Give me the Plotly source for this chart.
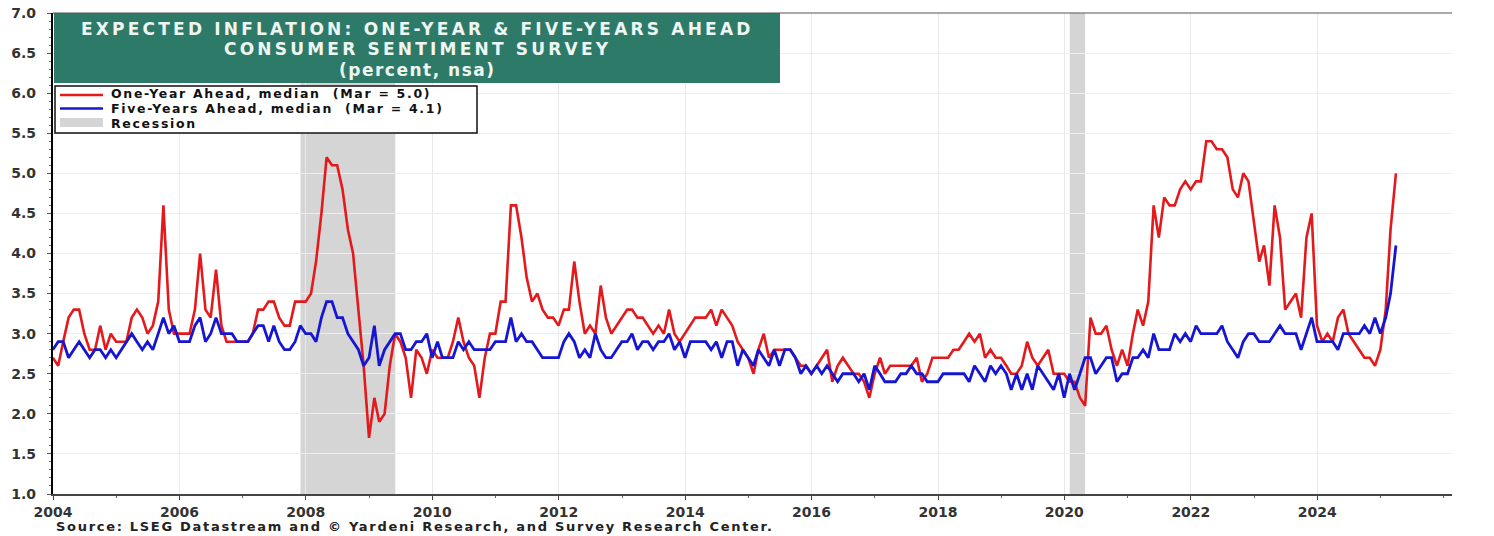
import pandas as pd
import plotly.graph_objects as go

# Monthly survey medians, Dec 2003 .. Mar 2025 (plotted at month end)
months = pd.period_range("2003-12", "2025-03", freq="M")
dates = months.to_timestamp(how="end").normalize()

one_year_ahead = [
    2.7, 2.6, 2.9, 3.2, 3.3, 3.3, 3.0, 2.8, 2.8, 3.1, 2.8, 3.0,
    2.9, 2.9, 2.9, 3.2, 3.3, 3.2, 3.0, 3.1, 3.4, 4.6, 3.3, 3.0,
    3.0, 3.0, 3.0, 3.3, 4.0, 3.3, 3.2, 3.8, 3.1, 2.9, 2.9, 2.9,
    2.9, 2.9, 3.0, 3.3, 3.3, 3.4, 3.4, 3.2, 3.1, 3.1, 3.4, 3.4,
    3.4, 3.5, 3.9, 4.5, 5.2, 5.1, 5.1, 4.8, 4.3, 4.0, 3.3, 2.6,
    1.7, 2.2, 1.9, 2.0, 2.6, 3.0, 2.9, 2.7, 2.2, 2.8, 2.7, 2.5,
    2.8, 2.7, 2.7, 2.7, 2.9, 3.2, 2.9, 2.7, 2.6, 2.2, 2.7, 3.0,
    3.0, 3.4, 3.4, 4.6, 4.6, 4.2, 3.7, 3.4, 3.5, 3.3, 3.2, 3.2,
    3.1, 3.3, 3.3, 3.9, 3.4, 3.0, 3.1, 3.0, 3.6, 3.2, 3.0, 3.1,
    3.2, 3.3, 3.3, 3.2, 3.2, 3.1, 3.0, 3.1, 3.0, 3.3, 3.0, 2.9,
    3.0, 3.1, 3.2, 3.2, 3.2, 3.3, 3.1, 3.3, 3.2, 3.1, 2.9, 2.8,
    2.7, 2.5, 2.8, 3.0, 2.7, 2.8, 2.8, 2.8, 2.8, 2.7, 2.6, 2.6,
    2.5, 2.6, 2.7, 2.8, 2.4, 2.6, 2.7, 2.6, 2.5, 2.5, 2.4, 2.2,
    2.5, 2.7, 2.5, 2.6, 2.6, 2.6, 2.6, 2.6, 2.7, 2.4, 2.5, 2.7,
    2.7, 2.7, 2.7, 2.8, 2.8, 2.9, 3.0, 2.9, 3.0, 2.7, 2.8, 2.7,
    2.7, 2.6, 2.5, 2.5, 2.6, 2.9, 2.7, 2.6, 2.7, 2.8, 2.5, 2.5,
    2.5, 2.4, 2.4, 2.2, 2.1, 3.2, 3.0, 3.0, 3.1, 2.8, 2.6, 2.8,
    2.6, 3.0, 3.3, 3.1, 3.4, 4.6, 4.2, 4.7, 4.6, 4.6, 4.8, 4.9,
    4.8, 4.9, 4.9, 5.4, 5.4, 5.3, 5.3, 5.2, 4.8, 4.7, 5.0, 4.9,
    4.4, 3.9, 4.1, 3.6, 4.6, 4.2, 3.3, 3.4, 3.5, 3.2, 4.2, 4.5,
    3.1, 2.9, 3.0, 2.9, 3.2, 3.3, 3.0, 2.9, 2.8, 2.7, 2.7, 2.6,
    2.8, 3.3, 4.3, 5.0,
]

five_years_ahead = [
    2.8, 2.9, 2.9, 2.7, 2.8, 2.9, 2.8, 2.7, 2.8, 2.8, 2.7, 2.8,
    2.7, 2.8, 2.9, 3.0, 2.9, 2.8, 2.9, 2.8, 3.0, 3.2, 3.0, 3.1,
    2.9, 2.9, 2.9, 3.1, 3.2, 2.9, 3.0, 3.2, 3.0, 3.0, 3.0, 2.9,
    2.9, 2.9, 3.0, 3.1, 3.1, 2.9, 3.1, 2.9, 2.8, 2.8, 2.9, 3.1,
    3.0, 3.0, 2.9, 3.2, 3.4, 3.4, 3.2, 3.2, 3.0, 2.9, 2.8, 2.6,
    2.7, 3.1, 2.6, 2.8, 2.9, 3.0, 3.0, 2.8, 2.8, 2.9, 2.9, 3.0,
    2.7, 2.9, 2.7, 2.7, 2.7, 2.9, 2.8, 2.9, 2.8, 2.8, 2.8, 2.8,
    2.9, 2.9, 2.9, 3.2, 2.9, 3.0, 2.9, 2.9, 2.8, 2.7, 2.7, 2.7,
    2.7, 2.9, 3.0, 2.9, 2.7, 2.8, 2.7, 3.0, 2.8, 2.7, 2.7, 2.8,
    2.9, 2.9, 3.0, 2.8, 2.9, 2.9, 2.8, 2.9, 2.9, 3.0, 2.8, 2.9,
    2.7, 2.9, 2.9, 2.9, 2.9, 2.8, 2.9, 2.7, 2.9, 2.9, 2.6, 2.8,
    2.7, 2.6, 2.8, 2.7, 2.6, 2.8, 2.6, 2.8, 2.8, 2.7, 2.5, 2.6,
    2.5, 2.6, 2.5, 2.6, 2.5, 2.4, 2.5, 2.5, 2.5, 2.4, 2.5, 2.3,
    2.6, 2.5, 2.4, 2.4, 2.4, 2.5, 2.5, 2.6, 2.5, 2.5, 2.4, 2.4,
    2.4, 2.5, 2.5, 2.5, 2.5, 2.5, 2.4, 2.6, 2.5, 2.4, 2.6, 2.5,
    2.6, 2.5, 2.3, 2.5, 2.3, 2.5, 2.3, 2.6, 2.5, 2.4, 2.3, 2.5,
    2.2, 2.5, 2.3, 2.5, 2.7, 2.7, 2.5, 2.6, 2.7, 2.7, 2.4, 2.5,
    2.5, 2.7, 2.7, 2.8, 2.7, 3.0, 2.8, 2.8, 2.8, 3.0, 2.9, 3.0,
    2.9, 3.1, 3.0, 3.0, 3.0, 3.0, 3.1, 2.9, 2.8, 2.7, 2.9, 3.0,
    3.0, 2.9, 2.9, 2.9, 3.0, 3.1, 3.0, 3.0, 3.0, 2.8, 3.0, 3.2,
    2.9, 2.9, 2.9, 2.9, 2.8, 3.0, 3.0, 3.0, 3.0, 3.1, 3.0, 3.2,
    3.0, 3.2, 3.5, 4.1,
]

recessions = [("2007-12-01", "2009-06-01"), ("2020-02-01", "2020-04-30")]

year_ticks = ["2004-01-01", "2006-01-01", "2008-01-01", "2010-01-01", "2012-01-01",
              "2014-01-01", "2016-01-01", "2018-01-01", "2020-01-01", "2022-01-01",
              "2024-01-01"]
year_labels = ["2004", "2006", "2008", "2010", "2012", "2014", "2016", "2018",
               "2020", "2022", "2024"]
pct_ticks = [1.0, 1.5, 2.0, 2.5, 3.0, 3.5, 4.0, 4.5, 5.0, 5.5, 6.0, 6.5, 7.0]
pct_labels = ["1.0", "1.5", "2.0", "2.5", "3.0", "3.5", "4.0", "4.5", "5.0",
              "5.5", "6.0", "6.5", "7.0"]

legend_labels = ["One-Year Ahead, median  (Mar = 5.0)",
                 "Five-Years Ahead, median  (Mar = 4.1)",
                 "Recession"]
title_lines = ["EXPECTED INFLATION: ONE-YEAR &amp; FIVE-YEARS AHEAD",
               "CONSUMER SENTIMENT SURVEY",
               "(percent, nsa)"]
source_text = "Source: LSEG Datastream and © Yardeni Research, and Survey Research Center."

RED = "#e3191c"
BLUE = "#1616d2"
GREEN = "#2e7a68"
SHADE = "#d5d5d5"
FONT = "DejaVu Sans"

W, H = 1494, 536
ML, MR, MT, MB = 53, 42, 13, 42
PW, PH = W - ML - MR, H - MT - MB


def fx(px):
    """Horizontal pixel position -> paper fraction."""
    return (px - ML) / PW


def fy(py):
    """Vertical pixel position (from top) -> paper fraction."""
    return (H - MB - py) / PH


def spaced(text, ls):
    return f'<span style="letter-spacing:{ls}px">{text}</span>'


fig = go.Figure()
fig.add_trace(go.Scatter(x=dates, y=one_year_ahead, mode="lines",
                         line=dict(color=RED, width=2.6), name=legend_labels[0]))
fig.add_trace(go.Scatter(x=dates, y=five_years_ahead, mode="lines",
                         line=dict(color=BLUE, width=2.8), name=legend_labels[1]))

shapes = []
for start, end in recessions:
    shapes.append(dict(type="rect", xref="x", yref="paper", x0=start, x1=end,
                       y0=0, y1=1, fillcolor=SHADE, line=dict(width=0), layer="below"))

# title panel
shapes.append(dict(type="rect", xref="paper", yref="paper", x0=fx(54), x1=fx(780),
                   y0=fy(83), y1=fy(13), fillcolor=GREEN, line=dict(width=0), layer="above"))
# top frame line
shapes.append(dict(type="line", xref="paper", yref="paper", x0=0, x1=1, y0=1, y1=1,
                   line=dict(color="#555555", width=1.2), layer="above"))
# legend box and keys
shapes.append(dict(type="rect", xref="paper", yref="paper", x0=fx(55), x1=fx(477),
                   y0=fy(133), y1=fy(86), fillcolor="white",
                   line=dict(color="#111111", width=1.5), layer="above"))
shapes.append(dict(type="line", xref="paper", yref="paper", x0=fx(60), x1=fx(103),
                   y0=fy(95), y1=fy(95), line=dict(color=RED, width=2.4), layer="above"))
shapes.append(dict(type="line", xref="paper", yref="paper", x0=fx(60), x1=fx(103),
                   y0=fy(108.5), y1=fy(108.5), line=dict(color=BLUE, width=2.6), layer="above"))
shapes.append(dict(type="rect", xref="paper", yref="paper", x0=fx(60), x1=fx(103),
                   y0=fy(127), y1=fy(118), fillcolor=SHADE, line=dict(width=0),
                   layer="above"))

annotations = []
title_rows = [(28.5, 3.2), (49, 3.2), (70, 1.5)]
for text, (ty, ls) in zip(title_lines, title_rows):
    annotations.append(dict(text=spaced(text, ls), xref="paper", yref="paper",
                            x=fx(417), y=fy(ty), xanchor="center", yanchor="middle",
                            showarrow=False,
                            font=dict(family=FONT, size=17, color="#eef6f2", weight="bold")))
for text, ty in zip(legend_labels, [94, 108.5, 123]):
    annotations.append(dict(text=spaced(text, 1.7), xref="paper", yref="paper",
                            x=fx(109), y=fy(ty), xanchor="left", yanchor="middle",
                            showarrow=False,
                            font=dict(family=FONT, size=12.5, color="#111111", weight="bold")))
annotations.append(dict(text=spaced(source_text, 1.7), xref="paper", yref="paper",
                        x=fx(54), y=fy(526), xanchor="left", yanchor="middle",
                        showarrow=False,
                        font=dict(family=FONT, size=13, color="#222222", weight="bold")))

tick_font = dict(family=FONT, size=14, color="#333333", weight="bold")

fig.update_layout(
    width=W, height=H,
    margin=dict(l=ML, r=MR, t=MT, b=MB, pad=0, autoexpand=False),
    paper_bgcolor="white", plot_bgcolor="white",
    showlegend=False,
    shapes=shapes, annotations=annotations,
    xaxis=dict(range=["2004-01-01", "2026-02-18"], tickvals=year_ticks,
               ticktext=year_labels, tickfont=tick_font, automargin=False,
               showline=True, linecolor="#444444", linewidth=1.6,
               ticks="outside", ticklen=4, tickcolor="#444444",
               showgrid=True, gridcolor="#e9e9e9", gridwidth=1, zeroline=False,
               minor=dict(dtick="M12", tick0="2004-01-01", ticks="outside",
                          ticklen=2, tickcolor="#666666", showgrid=False)),
    yaxis=dict(range=[1, 7], tickvals=pct_ticks, ticktext=pct_labels,
               tickfont=tick_font, ticklabelstandoff=8, automargin=False,
               showline=True, linecolor="#000000", linewidth=2.2,
               ticks="outside", ticklen=4, tickcolor="#555555",
               showgrid=True, gridcolor="#eeeeee", gridwidth=1, zeroline=False,
               minor=dict(dtick=0.1, ticks="outside", ticklen=2,
                          tickcolor="#777777", showgrid=False)),
    yaxis2=dict(range=[1, 7], overlaying="y", side="right", tickvals=pct_ticks,
                ticktext=pct_labels, tickfont=tick_font, automargin=False,
                showline=True, linecolor="#000000", linewidth=2.2,
                ticks="outside", ticklen=4, tickcolor="#555555",
                showgrid=False, zeroline=False,
                minor=dict(dtick=0.1, ticks="outside", ticklen=2,
                           tickcolor="#777777", showgrid=False)),
)

fig.write_html("out.html")
